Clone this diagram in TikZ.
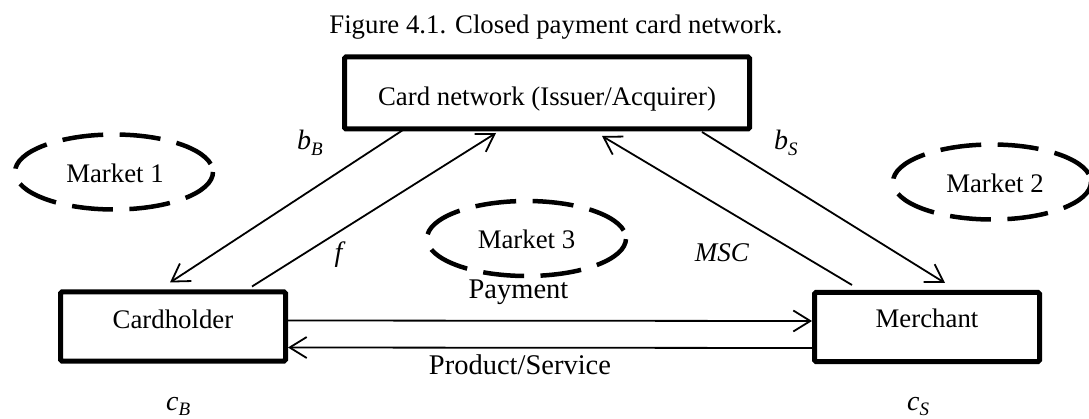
\documentclass[tikz,border=0pt]{standalone}
\usepackage{fontspec}
\setmainfont{Liberation Serif}
\usetikzlibrary{shapes.geometric,arrows.meta,calc}
\newcommand{\sbs}[2]{\textit{#1}\raisebox{-0.18em}{\fontsize{19}{20}\selectfont\textit{#2}}}
\begin{document}
\begin{tikzpicture}[x=1pt,y=-1pt,
  box/.style={draw,line width=5pt,rounded corners=1.5pt,inner sep=0pt,outer sep=0pt,
    minimum width=#1,minimum height=69pt},
  mkt/.style={draw,ellipse,line width=4.5pt,dash pattern=on 41pt off 16.5pt,dash phase=49pt,
    inner sep=0pt,minimum width=198pt,minimum height=75pt},
  txt/.style={font=\fontsize{26.8}{30}\selectfont,inner sep=0pt,anchor=base},
  lbl/.style={font=\fontsize{28.5}{32}\selectfont,inner sep=0pt,anchor=base},
  mth/.style={font=\fontsize{28}{30}\selectfont,inner sep=0pt},
  arr/.style={line width=1.8pt,-{Straight Barb[length=17pt,width=21pt]}}
]
\useasboundingbox (0,0) rectangle (1089,419);
\clip (0,0) rectangle (1089,419);

\node[txt] (title) at (556,34) {Figure 4.1. Closed payment card network.};

% boxes
\node[box=405pt,minimum height=72pt] (cn) at (547,93) {};
\node[txt] (cntxt) at (547,106) {Card network (Issuer/Acquirer)};
\node[box=225pt] (ch) at (173,326.5) {};
\node[txt] (chtxt) at (173,329) {Cardholder};
\node[box=225pt] (me) at (927,327) {};
\node[txt] (metxt) at (927,328) {Merchant};

% markets
\node[mkt] (m1) at (114,172) {};
\node[txt] (m1txt) at (115,183) {Market 1};
\node[mkt] (m2) at (992,182) {};
\node[txt] (m2txt) at (995,193) {Market 2};
\node[mkt,minimum width=199pt] (m3) at (526.5,238.5) {};
\node[txt] (m3txt) at (526.5,249) {Market 3};

% diagonal connectors
\draw[arr] ($(cn.south west)+(58.5,1)$) -- ($(ch.north west)+(109.5,-9.5)$);
\draw[arr] ($(ch.north west)+(191.5,-5.5)$) -- ($(cn.south west)+(151.5,4)$);
\draw[arr] ($(me.north west)+(37.5,-7.5)$) -- ($(cn.south west)+(257.5,7)$);
\draw[arr] ($(cn.south west)+(357.5,3)$) -- ($(me.north west)+(130.5,-9.5)$);

% horizontal connectors
\draw[arr] ($(ch.north east)+(2.5,28.5)$) -- ($(me.north west)+(-2.5,28.5)$);
\draw[arr] ($(me.north west)+(-2.5,55.5)$) -- ($(ch.north east)+(2.5,55.5)$);

% labels
\node[lbl] (pay) at (518.5,299) {Payment};
\node[lbl] (prod) at (520,374) {Product/Service};
\node[mth,anchor=base west] (bB) at (297,150) {\sbs{b}{B}};
\node[mth] (f) at (340,255) {\textit{f}};
\node[mth,font=\fontsize{27}{28}\selectfont,anchor=base] (msc) at (722,262) {\textit{MSC}};
\node[mth,anchor=base west] (bS) at (774,150) {\sbs{b}{S}};
\node[mth,anchor=base west] (cB) at (166,410) {\sbs{c}{B}};
\node[mth,anchor=base west] (cS) at (907,410) {\sbs{c}{S}};
\end{tikzpicture}
\end{document}
